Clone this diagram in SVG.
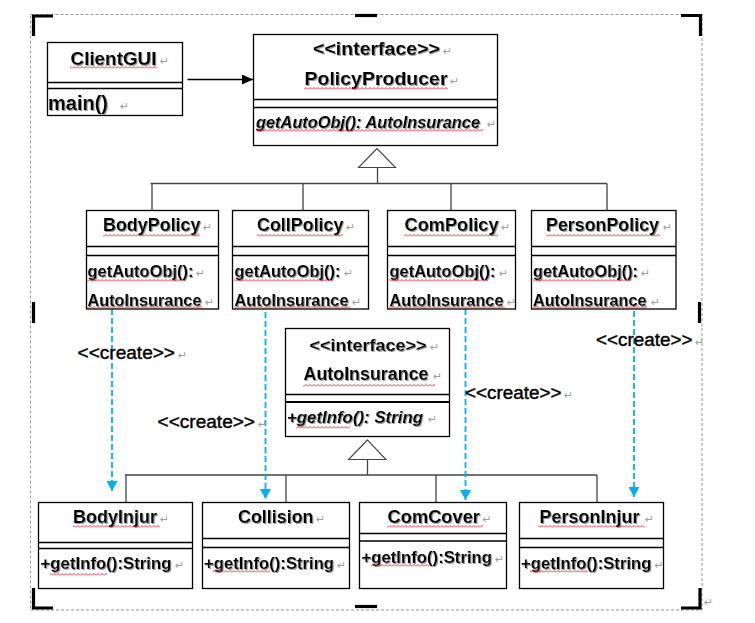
<svg xmlns="http://www.w3.org/2000/svg" width="755" height="623" viewBox="0 0 755 623">
<style>
.box{fill:#fff;stroke:#000;stroke-width:1.3}
.div{stroke:#000;stroke-width:1.3}
.t{font-family:"Liberation Sans",Arial,sans-serif;font-weight:bold;fill:#000;filter:url(#sh)}
.it{font-style:italic}
.cr{font-family:"Liberation Sans",Arial,sans-serif;font-size:18px;fill:#000;stroke:#000;stroke-width:0.4}
.pm{font-family:"DejaVu Sans",sans-serif;font-size:11px;fill:#a0a0a0}
.gen{stroke:#444;stroke-width:1.3;fill:none}
.tri{fill:#fff;stroke:#444;stroke-width:1.1}
.dash{stroke:#00B0F0;stroke-width:1.8;stroke-dasharray:6 3;fill:none}
.corner{stroke:#000;stroke-width:3.2;fill:none}
.sq{fill:url(#sq)}
</style>
<defs>
<filter id="sh" x="-5%" y="-20%" width="110%" height="140%">
<feOffset in="SourceAlpha" dx="1" dy="1" result="o"/>
<feFlood flood-color="#9a9a9a"/>
<feComposite in2="o" operator="in" result="s"/>
<feMerge><feMergeNode in="s"/><feMergeNode in="SourceGraphic"/></feMerge>
</filter>
<pattern id="sq" width="4" height="3" patternUnits="userSpaceOnUse">
<path d="M0 2.5 L2 0.5 L4 2.5" fill="none" stroke="#e8000b" stroke-width="0.8"/>
</pattern>
<marker id="solid" markerWidth="12" markerHeight="10" refX="11" refY="5" orient="auto" markerUnits="userSpaceOnUse">
<path d="M0 0 L11 5 L0 10 Z" fill="#000"/>
</marker>
<marker id="blue" markerWidth="12" markerHeight="11" refX="10" refY="5.5" orient="auto" markerUnits="userSpaceOnUse">
<path d="M0 0 L10 5.5 L0 11 Z" fill="#00B0F0"/>
</marker>
</defs>
<rect width="755" height="623" fill="#fff"/>

<g id="frame">
<rect x="30.5" y="14.5" width="671.5" height="595.5" fill="none" stroke="#999" stroke-width="1" stroke-dasharray="3 2"/>
<path class="corner" d="M33.5 36 V16 H53"/>
<path class="corner" d="M355 15.5 H377"/>
<path class="corner" d="M681 15.5 H700.5 V36"/>
<path class="corner" d="M33.5 302 V323"/>
<path class="corner" d="M699.5 302 V323"/>
<path class="corner" d="M33.5 588 V608 H53"/>
<path class="corner" d="M355 606.5 H377"/>
<path class="corner" d="M681 608 H700 V588"/>
<text class="pm" x="704" y="606">↵</text>
</g>

<g id="connectors">
<line x1="187.5" y1="79.5" x2="253" y2="79.5" stroke="#000" stroke-width="1.3" marker-end="url(#solid)"/>
<polygon class="tri" points="377,148.5 358.5,167.5 395.5,167.5"/>
<path class="gen" d="M377.5 167.5 V183.5 M150.5 183.5 H607 M152 183.5 V210.5 M303 183.5 V210.5 M451 183.5 V210.5 M607 183.5 V210.5"/>
<polygon class="tri" points="367.5,440 348.5,459.5 386,459.5"/>
<path class="gen" d="M367.5 459.5 V475 M125 475 H597 M126 475 V502 M286 475 V502 M436 475 V502 M597 475 V502"/>
<line class="dash" x1="112" y1="309" x2="112" y2="491" marker-end="url(#blue)"/>
<line class="dash" x1="265.5" y1="285" x2="265.5" y2="499" marker-end="url(#blue)"/>
<line class="dash" x1="465.5" y1="309" x2="465.5" y2="500" marker-end="url(#blue)"/>
<line class="dash" x1="634" y1="311" x2="634" y2="497" marker-end="url(#blue)"/>
<text class="cr" x="77.5" y="359" textLength="97.5" lengthAdjust="spacingAndGlyphs">&lt;&lt;create&gt;&gt;</text><text class="pm" x="178" y="359">↵</text>
<text class="cr" x="157.5" y="428" textLength="97.5" lengthAdjust="spacingAndGlyphs">&lt;&lt;create&gt;&gt;</text><text class="pm" x="258" y="428">↵</text>
<text class="cr" x="465" y="399" textLength="96.5" lengthAdjust="spacingAndGlyphs">&lt;&lt;create&gt;&gt;</text><text class="pm" x="564" y="399">↵</text>
<text class="cr" x="596" y="346" textLength="96.5" lengthAdjust="spacingAndGlyphs">&lt;&lt;create&gt;&gt;</text><text class="pm" x="695" y="346">↵</text>
</g>

<g id="ClientGUI">
<rect class="box" x="47.5" y="42.5" width="135" height="73"/>
<line class="div" x1="47.5" y1="82.5" x2="182.5" y2="82.5"/>
<line class="div" x1="47.5" y1="88.5" x2="182.5" y2="88.5"/>
<text class="t" x="70.5" y="65" font-size="19" textLength="86" lengthAdjust="spacingAndGlyphs">ClientGUI</text><text class="pm" x="160" y="65">↵</text>
<rect class="sq" x="70" y="66" width="87" height="3"/>
<text class="t" x="48" y="110" font-size="20" textLength="60" lengthAdjust="spacingAndGlyphs">main()</text><text class="pm" x="120" y="110">↵</text>
</g>

<g id="PolicyProducer">
<rect class="box" x="253.5" y="34.5" width="244" height="111"/>
<line class="div" x1="253.5" y1="99.5" x2="497.5" y2="99.5"/>
<line class="div" x1="253.5" y1="107.5" x2="497.5" y2="107.5"/>
<text class="t" x="313" y="55" font-size="18" textLength="127" lengthAdjust="spacingAndGlyphs">&lt;&lt;interface&gt;&gt;</text><text class="pm" x="443" y="55">↵</text>
<text class="t" x="304.5" y="85" font-size="19" textLength="143" lengthAdjust="spacingAndGlyphs">PolicyProducer</text><text class="pm" x="450" y="85">↵</text>
<rect class="sq" x="304" y="87" width="144" height="3"/>
<text class="t it" x="256" y="128" font-size="16.3" textLength="224" lengthAdjust="spacingAndGlyphs">getAutoObj(): AutoInsurance</text><text class="pm" x="487" y="128">↵</text>
<rect class="sq" x="256" y="129" width="227" height="3"/>
</g>

<g id="BodyPolicy">
<rect class="box" x="86.5" y="210.5" width="132" height="98.5"/>
<line class="div" x1="86.5" y1="246.5" x2="218.5" y2="246.5"/>
<line class="div" x1="86.5" y1="255.5" x2="218.5" y2="255.5"/>
<text class="t" x="103" y="231" font-size="18" textLength="97.5" lengthAdjust="spacingAndGlyphs">BodyPolicy</text><text class="pm" x="203" y="231">↵</text>
<rect class="sq" x="103" y="234" width="97" height="3"/>
<text class="t" x="87.5" y="277" font-size="16.5" textLength="106" lengthAdjust="spacingAndGlyphs">getAutoObj():</text><text class="pm" x="196" y="277">↵</text>
<rect class="sq" x="87" y="279" width="98" height="3"/>
<text class="t" x="87.5" y="305.5" font-size="16.3" textLength="114" lengthAdjust="spacingAndGlyphs">AutoInsurance</text><text class="pm" x="205" y="305.5">↵</text>
<rect class="sq" x="87" y="306" width="115" height="3"/>
</g>

<g id="CollPolicy">
<rect class="box" x="232.5" y="210.5" width="136" height="98.5"/>
<line class="div" x1="232.5" y1="246.5" x2="368.5" y2="246.5"/>
<line class="div" x1="232.5" y1="255.5" x2="368.5" y2="255.5"/>
<text class="t" x="257" y="231" font-size="18" textLength="86.5" lengthAdjust="spacingAndGlyphs">CollPolicy</text><text class="pm" x="346" y="231">↵</text>
<rect class="sq" x="257" y="234" width="86" height="3"/>
<text class="t" x="234.5" y="277" font-size="16.5" textLength="106" lengthAdjust="spacingAndGlyphs">getAutoObj():</text><text class="pm" x="344" y="277">↵</text>
<rect class="sq" x="234" y="279" width="98" height="3"/>
<text class="t" x="234.5" y="305.5" font-size="16.3" textLength="114" lengthAdjust="spacingAndGlyphs">AutoInsurance</text><text class="pm" x="352" y="305.5">↵</text>
<rect class="sq" x="234" y="306" width="116" height="3"/>
</g>

<g id="ComPolicy">
<rect class="box" x="387.5" y="210.5" width="128" height="98.5"/>
<line class="div" x1="387.5" y1="246.5" x2="515.5" y2="246.5"/>
<line class="div" x1="387.5" y1="255.5" x2="515.5" y2="255.5"/>
<text class="t" x="404.5" y="231" font-size="18" textLength="94" lengthAdjust="spacingAndGlyphs">ComPolicy</text><text class="pm" x="501" y="231">↵</text>
<rect class="sq" x="404" y="234" width="94" height="3"/>
<text class="t" x="389.5" y="277" font-size="16.5" textLength="106" lengthAdjust="spacingAndGlyphs">getAutoObj():</text><text class="pm" x="499" y="277">↵</text>
<rect class="sq" x="389" y="279" width="98" height="3"/>
<text class="t" x="389.5" y="305.5" font-size="16.3" textLength="114" lengthAdjust="spacingAndGlyphs">AutoInsurance</text><text class="pm" x="507" y="305.5">↵</text>
<rect class="sq" x="389" y="306" width="116" height="3"/>
</g>

<g id="PersonPolicy">
<rect class="box" x="531.5" y="210.5" width="144.5" height="98.5"/>
<line class="div" x1="531.5" y1="246.5" x2="676" y2="246.5"/>
<line class="div" x1="531.5" y1="255.5" x2="676" y2="255.5"/>
<text class="t" x="546" y="231" font-size="18" textLength="113" lengthAdjust="spacingAndGlyphs">PersonPolicy</text><text class="pm" x="663" y="231">↵</text>
<rect class="sq" x="546" y="234" width="114" height="3"/>
<text class="t" x="533" y="277" font-size="16.5" textLength="105" lengthAdjust="spacingAndGlyphs">getAutoObj():</text><text class="pm" x="641" y="277">↵</text>
<rect class="sq" x="533" y="279" width="98" height="3"/>
<text class="t" x="533" y="305.5" font-size="16.3" textLength="113.5" lengthAdjust="spacingAndGlyphs">AutoInsurance</text><text class="pm" x="651" y="305.5">↵</text>
<rect class="sq" x="533" y="306" width="114" height="3"/>
</g>

<g id="AutoInsurance">
<rect class="box" x="285.5" y="328.5" width="164" height="108"/>
<line class="div" x1="285.5" y1="394.5" x2="449.5" y2="394.5"/>
<line x1="285.5" y1="402" x2="449.5" y2="402" stroke="#000" stroke-width="2"/>
<text class="t" x="309.5" y="351" font-size="17" textLength="117" lengthAdjust="spacingAndGlyphs">&lt;&lt;interface&gt;&gt;</text><text class="pm" x="430" y="351">↵</text>
<text class="t" x="303.5" y="380" font-size="17.5" textLength="125" lengthAdjust="spacingAndGlyphs">AutoInsurance</text><text class="pm" x="433" y="380">↵</text>
<rect class="sq" x="303" y="384" width="132" height="3"/>
<text class="t it" x="287" y="423" font-size="17" textLength="136" lengthAdjust="spacingAndGlyphs">+getInfo(): String</text><text class="pm" x="428" y="423">↵</text>
<rect class="sq" x="296" y="426" width="54" height="3"/>
</g>

<g id="BodyInjur">
<rect class="box" x="38.5" y="502.5" width="154" height="86"/>
<line class="div" x1="38.5" y1="542.5" x2="192.5" y2="542.5"/>
<line class="div" x1="38.5" y1="548.5" x2="192.5" y2="548.5"/>
<text class="t" x="73" y="523" font-size="18" textLength="84" lengthAdjust="spacingAndGlyphs">BodyInjur</text><text class="pm" x="160" y="523">↵</text>
<rect class="sq" x="73" y="525" width="87" height="3"/>
<text class="t" x="40.5" y="569" font-size="17" textLength="131" lengthAdjust="spacingAndGlyphs">+getInfo():String</text><text class="pm" x="175" y="569">↵</text>
<rect class="sq" x="50" y="573" width="57" height="3"/>
</g>

<g id="Collision">
<rect class="box" x="202.5" y="502.5" width="147" height="86"/>
<line class="div" x1="202.5" y1="538.5" x2="349.5" y2="538.5"/>
<line class="div" x1="202.5" y1="547.5" x2="349.5" y2="547.5"/>
<text class="t" x="238" y="523" font-size="18" textLength="75.5" lengthAdjust="spacingAndGlyphs">Collision</text><text class="pm" x="316" y="523">↵</text>
<text class="t" x="204" y="569" font-size="17" textLength="130" lengthAdjust="spacingAndGlyphs">+getInfo():String</text><text class="pm" x="337" y="569">↵</text>
<rect class="sq" x="213" y="570" width="57" height="3"/>
</g>

<g id="ComCover">
<rect class="box" x="359.5" y="502.5" width="147" height="86"/>
<line class="div" x1="359.5" y1="533.5" x2="506.5" y2="533.5"/>
<line class="div" x1="359.5" y1="541" x2="506.5" y2="541"/>
<text class="t" x="387.5" y="523" font-size="18" textLength="92.5" lengthAdjust="spacingAndGlyphs">ComCover</text><text class="pm" x="482.5" y="523">↵</text>
<rect class="sq" x="387" y="525" width="96" height="3"/>
<text class="t" x="361.5" y="563" font-size="17" textLength="130.5" lengthAdjust="spacingAndGlyphs">+getInfo():String</text><text class="pm" x="495" y="563">↵</text>
<rect class="sq" x="371" y="564" width="58" height="3"/>
</g>

<g id="PersonInjur">
<rect class="box" x="519.5" y="502.5" width="144" height="86"/>
<line class="div" x1="519.5" y1="538.5" x2="663.5" y2="538.5"/>
<line class="div" x1="519.5" y1="547.5" x2="663.5" y2="547.5"/>
<text class="t" x="539.5" y="523" font-size="18" textLength="100" lengthAdjust="spacingAndGlyphs">PersonInjur</text><text class="pm" x="645" y="523">↵</text>
<rect class="sq" x="538" y="525" width="107" height="3"/>
<text class="t" x="521" y="568.5" font-size="17" textLength="130.5" lengthAdjust="spacingAndGlyphs">+getInfo():String</text><text class="pm" x="654.5" y="568.5">↵</text>
<rect class="sq" x="530" y="570" width="58" height="3"/>
</g>
</svg>
